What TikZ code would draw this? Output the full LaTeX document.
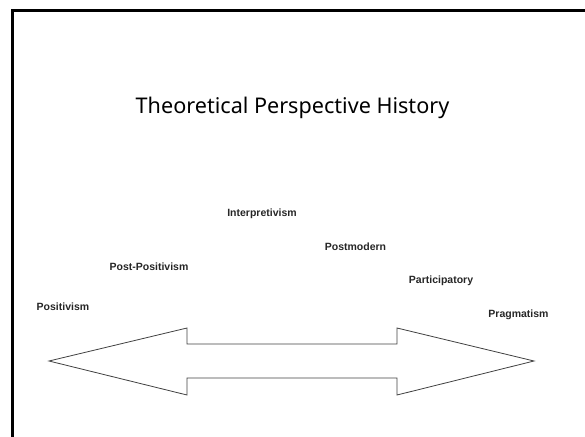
\documentclass[tikz,border=0pt]{standalone}
\usepackage{fontspec}
\setmainfont{Liberation Sans}
\newfontfamily\titlefont{Noto Sans}
\begin{document}
\begin{tikzpicture}[x=1pt,y=-1pt,
  lbl/.style={font=\fontsize{10.5}{12}\selectfont\bfseries, text=black!85, inner sep=0pt},
  ttl/.style={font=\titlefont\fontsize{21.6}{26}\selectfont, inner sep=0pt, anchor=base},
  arrowshape/.style={draw=black!75, line width=0.8pt, line join=miter}]
\useasboundingbox (0,0) rectangle (585,436);
\clip (0,0) rectangle (585,436);
\draw[line width=2.8pt] (12.5,445) -- (12.5,10.5) -- (595,10.5);
\node[ttl] (title) at (292.5,113) {Theoretical Perspective History};
\node[lbl] (interp) at (262,214) {Interpretivism};
\node[lbl] (postmod) at (355.5,247) {Postmodern};
\node[lbl] (postpos) at (149,267) {Post-Positivism};
\node[lbl] (partic) at (441,281) {Participatory};
\node[lbl] (posit) at (63,307) {Positivism};
\node[lbl] (pragm) at (518.5,315) {Pragmatism};
\draw[arrowshape] (49,361) -- (187,328) -- (187,344) -- (397,344) -- (397,328)
  -- (534,361) -- (397,395) -- (397,378) -- (187,378) -- (187,395) -- cycle;
\end{tikzpicture}
\end{document}
